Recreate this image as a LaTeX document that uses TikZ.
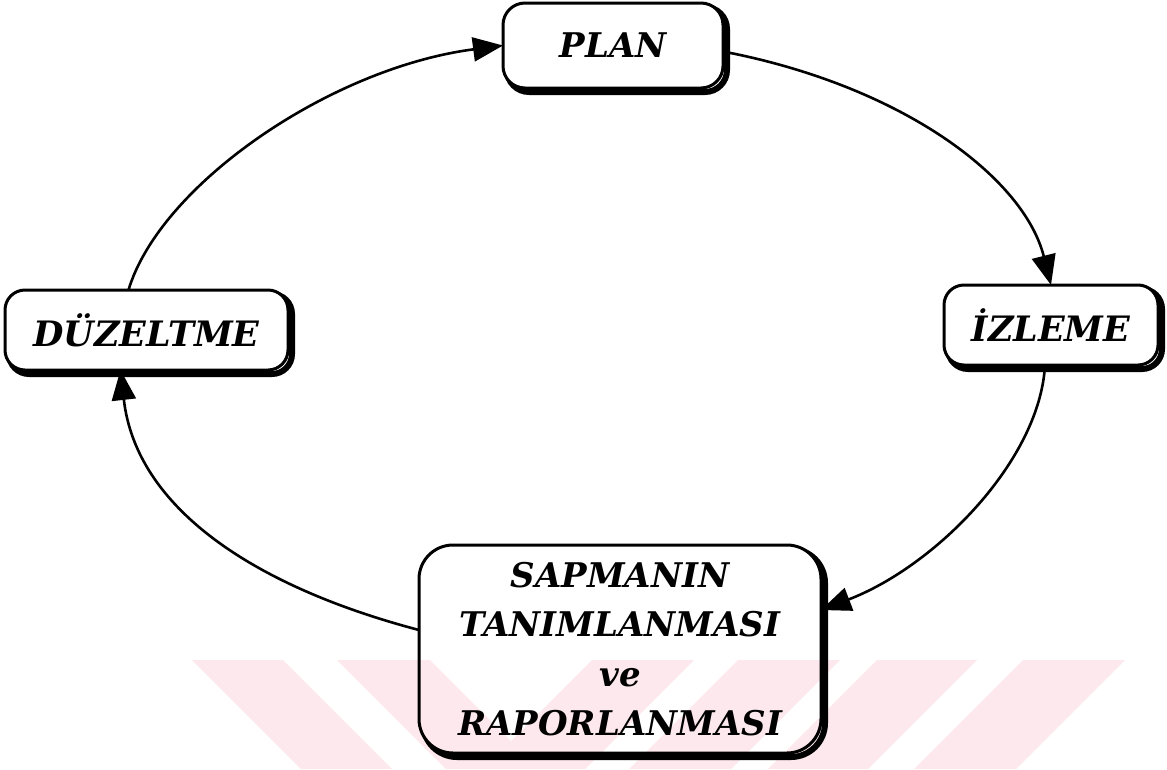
\documentclass[tikz,border=0pt]{standalone}
\usepackage{fontspec}
\setmainfont{DejaVu Serif}
\usetikzlibrary{arrows.meta}
\definecolor{wm}{RGB}{253,233,237}
\tikzset{
  box/.style={draw, line width=3pt, rounded corners=#1, inner sep=0pt, outer sep=0pt, align=center},
  conn/.style={line width=2.6pt, -{Triangle[length=30pt,width=24pt]}},
  stripe/.style={fill=wm, draw=none},
}
\newcommand\boxshadow[2]{%
  \begin{scope}[even odd rule, rounded corners=#2]
    \clip (-100,-100) rectangle (1300,900) (#1.south west) rectangle (#1.north east);
    \draw[line width=6pt] ([shift={(4pt,-4pt)}]#1.south west) rectangle ([shift={(4pt,-4pt)}]#1.north east);
  \end{scope}}
\begin{document}
\begin{tikzpicture}[x=1pt,y=-1pt]
\useasboundingbox[fill=white] (0,0) rectangle (1167,769);
% watermark stripes
\fill[stripe] (192,660) -- (283,660) -- (392,769) -- (301,769) -- cycle;
\fill[stripe] (337,660) -- (430,660) -- (539,769) -- (446,769) -- cycle;
\fill[stripe] (592,660) -- (694,660) -- (585,769) -- (483,769) -- cycle;
\fill[stripe] (738,660) -- (840,660) -- (731,769) -- (629,769) -- cycle;
\fill[stripe] (877,660) -- (977,660) -- (868,769) -- (768,769) -- cycle;
\fill[stripe] (1023,660) -- (1125,660) -- (1016,769) -- (914,769) -- cycle;
% nodes
\node[box=22, minimum width=220pt, minimum height=85pt, font=\bfseries\itshape\fontsize{34}{40}\selectfont] (plan) at (613,45.5) {PLAN};
\node[box=20, minimum width=214pt, minimum height=80pt, font=\bfseries\itshape\fontsize{35}{40}\selectfont] (izl) at (1051,325) {İZLEME};
\node[box=20, minimum width=283pt, minimum height=80pt, font=\bfseries\itshape\fontsize{35}{40}\selectfont] (duz) at (146.5,330) {DÜZELTME};
\node[box=34, minimum width=402pt, minimum height=208pt, font=\bfseries\itshape\fontsize{34}{49.5}\selectfont] (sap) at (620,649) {SAPMANIN\\TANIMLANMASI\\ve\\RAPORLANMASI};
\boxshadow{plan}{22}
\boxshadow{izl}{20}
\boxshadow{duz}{20}
\boxshadow{sap}{34}
% connectors
\draw[conn] ([xshift=-18pt]duz.north) .. controls (160,185) and (330,68) .. (plan.west);
\draw[conn] ([yshift=-6pt]plan.east) .. controls (903,86) and (1024,178) .. (izl.north);
\draw[conn] ([xshift=-6pt]izl.south) .. controls (1040,460) and (936,566) .. ([yshift=39pt]sap.east);
\draw[conn] ([yshift=19pt]sap.west) .. controls (252,586) and (136,507) .. ([xshift=-26pt]duz.south);
\end{tikzpicture}
\end{document}
